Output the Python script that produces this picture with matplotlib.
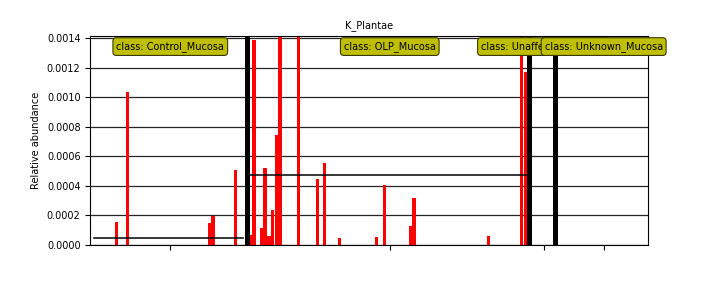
import numpy as np
import matplotlib
matplotlib.use('Agg')
import matplotlib.pyplot as plt
import matplotlib.transforms as mtransforms

feature = 'K_Plantae'
classes = ['Control_Mucosa', 'OLP_Mucosa', 'Unaffected_Mucosa', 'Unknown_Mucosa']

# relative abundance per sample, samples grouped by class
control = [0, 0, 0, 0, 0, 0, 0.000155, 0, 0, 0.001034,
           0, 0, 0, 0, 0, 0, 0, 0, 0, 0,
           0, 0, 0, 0, 0, 0, 0, 0, 0, 0,
           0, 0.000151, 0.000198, 0, 0, 0, 0, 0, 0.000507, 0,
           0]
olp = [0.000068, 0.001389, 0, 0.000115, 0.000524, 0.000061, 0.000237, 0.000745, 0.0112, 0,
       0, 0, 0, 0.0098, 0, 0, 0, 0, 0.000447, 0,
       0.000556, 0, 0, 0, 0.000047, 0, 0, 0, 0, 0,
       0, 0, 0, 0, 0.000054, 0, 0.000407, 0, 0, 0,
       0, 0, 0, 0.000129, 0.000318, 0, 0, 0, 0, 0,
       0, 0, 0, 0, 0, 0, 0, 0, 0, 0,
       0, 0, 0, 0, 0.000061, 0, 0, 0, 0, 0,
       0, 0, 0, 0.0081, 0.001172]
unaffected = [0, 0, 0, 0, 0, 0]
unknown = [0, 0, 0, 0, 0, 0, 0, 0, 0, 0, 0, 0,
           0, 0, 0, 0, 0, 0, 0, 0, 0, 0, 0, 0]

yticks = [0.0, 0.0002, 0.0004, 0.0006, 0.0008, 0.0010, 0.0012, 0.0014]
ymax = 0.001418

groups = [control, olp, unaffected, unknown]

fig = plt.figure(figsize=(7.2, 2.88), dpi=100)
ax = fig.add_axes([90.3 / 720, 43 / 288, 558 / 720, 209.3 / 288])

offset = 0
centers = []
seps = []
for i, vals in enumerate(groups):
    n = len(vals)
    xs = np.arange(n) + offset
    ax.bar(xs, vals, width=0.9, color='r', linewidth=0, zorder=2)
    m = np.mean(vals)
    if m > 0:
        ax.plot([xs[0], xs[-1]], [m, m], color='k', lw=1.1, zorder=3)
    centers.append(offset + n / 2.0)
    if i < len(groups) - 1:
        seps.append(offset + n)
    offset += n + 1
total = offset - 1

for s in seps:
    ax.axvline(s, color='k', lw=3.6, zorder=3)

ax.set_xlim(-1, total)
ax.set_ylim(0, ymax)
ax.set_yticks(yticks)
ax.set_yticklabels(['%.4f' % t for t in yticks], fontsize=7)
ax.set_xticks(centers)
ax.set_xticklabels([])
ax.yaxis.grid(True, color='0.15', lw=0.9)
ax.set_axisbelow(True)

trans = mtransforms.blended_transform_factory(ax.transData, ax.transAxes)
for c, cl in zip(centers, classes):
    ax.text(c, 0.948, 'class: ' + cl, transform=trans, ha='center', va='center',
            fontsize=7, zorder=5,
            bbox=dict(boxstyle='round,pad=0.35', facecolor='#bfbf00', edgecolor='#3a3a00', lw=0.8))

ax.set_title(feature, fontsize=7, pad=5.5)
ax.set_ylabel('Relative abundance', fontsize=7)

fig.savefig('out.png', dpi=100)
